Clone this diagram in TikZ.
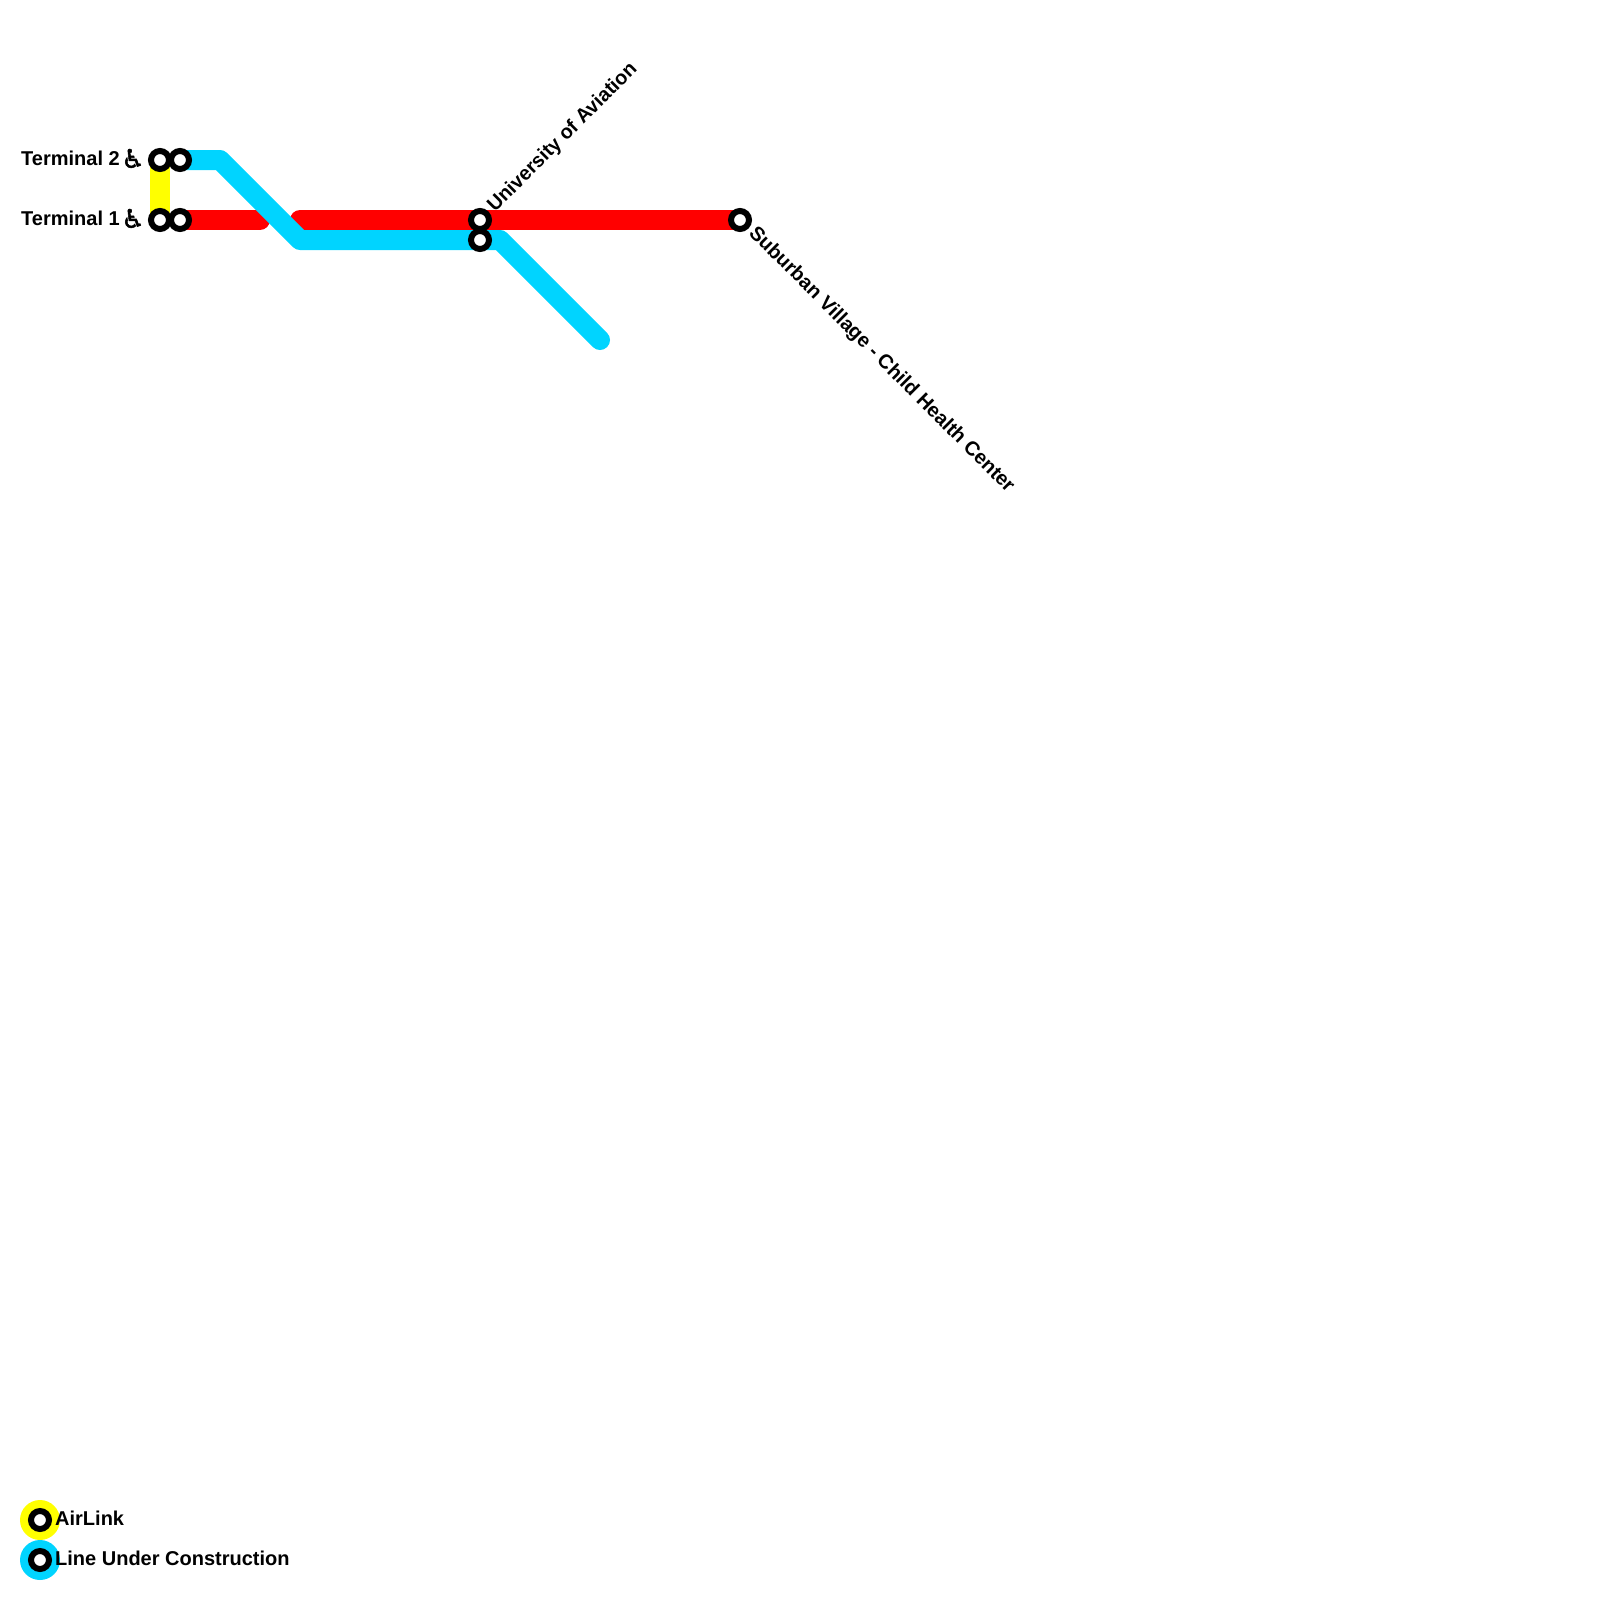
\documentclass[tikz,border=0pt]{standalone}
\usepackage{fontspec}
\setmainfont{Liberation Sans}[BoldFont={Liberation Sans Bold}]
\newfontfamily\symfont[FakeBold=2]{DejaVu Sans}
\definecolor{airyellow}{RGB}{255,255,0}
\definecolor{linered}{RGB}{255,0,0}
\definecolor{linecyan}{RGB}{0,212,255}
\tikzset{
  stn/.style={circle,draw=black,fill=white,line width=6pt,minimum size=18pt,inner sep=0pt,outer sep=0pt},
  lne/.style={line width=20pt,line cap=round,line join=round},
  lbl/.style={font=\bfseries\fontsize{20}{20}\selectfont,inner sep=0pt,text=black},
  wc/.style={font=\symfont\fontsize{26}{26}\selectfont,inner sep=0pt,text=black},
  dot/.style={circle,minimum size=40pt,inner sep=0pt,outer sep=0pt}
}
\begin{document}
\begin{tikzpicture}[x=1pt,y=-1pt]
\useasboundingbox (0,0) rectangle (1600,1600);
% junction coordinates
\coordinate (b1) at (220,160);
\coordinate (b2) at (300,240);
\coordinate (b3) at (500,240);
\coordinate (b4) at (600,340);
\coordinate (r1) at (260,220);
\coordinate (r2) at (300,220);
\coordinate (t2a) at (160,160);
\coordinate (t1a) at (160,220);
\coordinate (t2b) at (180,160);
\coordinate (t1b) at (180,220);
\coordinate (ua) at (480,220);
\coordinate (ub) at (480,240);
\coordinate (sv) at (740,220);
% lines
\draw[lne,line cap=butt,airyellow] (t2a) -- (t1a);
\draw[lne,linered] (t1b) -- (r1);
\draw[lne,linered] (r2) -- (ua) -- (sv);
\draw[lne,linecyan] (t2b) -- (b1) -- (b2) -- (ub) -- (b3) -- (b4);
% stations
\node[stn] (T2A) at (t2a) {};
\node[stn] (T2B) at (t2b) {};
\node[stn] (T1A) at (t1a) {};
\node[stn] (T1B) at (t1b) {};
\node[stn] (UA) at (ua) {};
\node[stn] (UB) at (ub) {};
\node[stn] (SV) at (sv) {};
% labels
\node[lbl,anchor=base west] (lt2) at (21,165) {Terminal 2};
\node[wc,anchor=base] (w2) at (133,168) {♿};
\node[lbl,anchor=base west] (lt1) at (21,225) {Terminal 1};
\node[wc,anchor=base] (w1) at (133,228) {♿};
\node[lbl,anchor=base west,rotate=45,xscale=0.985] (lu) at (495,213) {University of Aviation};
\node[lbl,anchor=base west,rotate=-45] (ls) at (748,234) {Suburban Village - Child Health Center};
% legend
\node[dot,fill=airyellow] (k1) at (40,1520) {};
\node[stn] (k1s) at (k1) {};
\node[lbl,anchor=base west] (k1t) at (55,1525) {AirLink};
\node[dot,fill=linecyan] (k2) at (40,1560) {};
\node[stn] (k2s) at (k2) {};
\node[lbl,anchor=base west] (k2t) at (55,1565) {Line Under Construction};
\end{tikzpicture}
\end{document}
